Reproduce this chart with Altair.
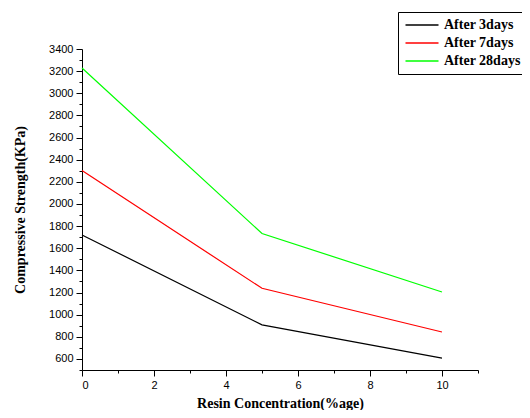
import altair as alt
import pandas as pd

concentration = [0, 5, 10]
after_3days = [1720, 908, 607]
after_7days = [2302, 1238, 843]
after_28days = [3228, 1733, 1205]
series_names = ["After 3days", "After 7days", "After 28days"]
series_colors = ["#000000", "#FF0000", "#00FF00"]

x_ticks = list(range(0, 12))
y_ticks = list(range(500, 3401, 100))

rows = []
for name, vals in zip(series_names, [after_3days, after_7days, after_28days]):
    for c, v in zip(concentration, vals):
        rows.append({"conc": c, "strength": v, "series": name})
df = pd.DataFrame(rows)

sans = "Liberation Sans"
serif = "Liberation Serif"

chart = alt.Chart(df).mark_line(strokeWidth=1.2).encode(
    x=alt.X("conc:Q",
            scale=alt.Scale(domain=[0, 11], nice=False, zero=False),
            axis=alt.Axis(
                title="Resin Concentration(%age)",
                values=x_ticks,
                labelExpr="datum.value % 2 === 0 && datum.value <= 10 ? datum.label : ''",
                tickSize={"condition": {"test": "datum.value % 2 === 0", "value": 6}, "value": 3},
                grid=False,
                labelPadding=3,
                titlePadding=6,
            )),
    y=alt.Y("strength:Q",
            scale=alt.Scale(domain=[500, 3400], nice=False, zero=False),
            axis=alt.Axis(
                title="Compressive Strength(KPa)",
                values=y_ticks,
                labelExpr="datum.value % 200 === 0 ? datum.label : ''",
                tickSize={"condition": {"test": "datum.value % 200 === 0", "value": 6}, "value": 3},
                grid=False,
                labelPadding=3,
                titlePadding=21,
                format="d",
            )),
    color=alt.Color("series:N",
                    sort=series_names,
                    scale=alt.Scale(domain=series_names, range=series_colors),
                    legend=alt.Legend(
                        title=None,
                        orient="none",
                        legendX=316,
                        legendY=-37,
                        symbolType="M-1,0H5",
                        symbolSize=121,
                        symbolStrokeWidth=1.5,
                        labelFont=serif,
                        labelFontWeight="bold",
                        labelFontSize=14,
                        labelColor="black",
                        labelOffset=26,
                        rowPadding=4,
                        padding=6,
                        strokeColor="black",
                        fillColor="white",
                    )),
).properties(
    width=396,
    height=321,
    autosize=alt.AutoSizeParams(type="none"),
    padding={"left": 74, "top": 41, "right": 44, "bottom": 40},
    background="white",
).configure_view(
    stroke=None
).configure_axis(
    domainColor="black",
    domainWidth=1,
    tickColor="black",
    tickWidth=1,
    labelFont=sans,
    labelFontSize=11,
    labelColor="black",
    titleFont=serif,
    titleFontWeight="bold",
    titleFontSize=14,
    titleColor="black",
)

chart.save("out.html", embed_options={"renderer": "svg", "actions": False})
